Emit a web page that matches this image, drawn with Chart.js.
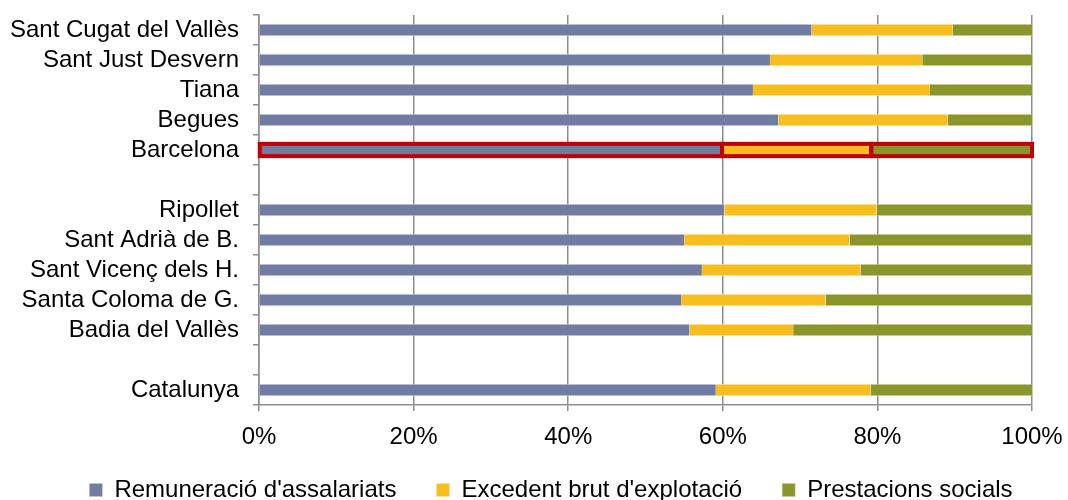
<!DOCTYPE html>
<html>
<head>
<meta charset="utf-8">
<script src="https://cdn.jsdelivr.net/npm/chart.js@4/dist/chart.umd.min.js"></script>
<style>
html,body{margin:0;padding:0;background:#fff;}
#wrap{width:1068px;height:500px;position:relative;}
</style>
</head>
<body>
<div id="wrap"><canvas id="c" width="1068" height="500"></canvas></div>
<script>
const categories = ['Sant Cugat del Vallès','Sant Just Desvern','Tiana','Begues','Barcelona','','Ripollet','Sant Adrià de B.','Sant Vicenç dels H.','Santa Coloma de G.','Badia del Vallès','','Catalunya'];
const remuneracio = [71.5, 66.1, 63.9, 67.2, 59.9, null, 60.2, 55.0, 57.3, 54.6, 55.7, null, 59.1];
const excedent    = [18.2, 19.7, 22.9, 21.9, 19.3, null, 19.7, 21.4, 20.5, 18.7, 13.4, null, 20.0];
const prestacions = [10.3, 14.2, 13.2, 10.9, 20.8, null, 20.1, 23.6, 22.2, 26.7, 30.9, null, 20.9];
const seriesNames = ["Remuneració d'assalariats", "Excedent brut d'explotació", "Prestacions socials"];
const xTicks = [0, 20, 40, 60, 80, 100];
const highlight = 'Barcelona';

const colors = ['#717ca3', '#f6bf1f', '#8a962b'];
const edgeColors = ['#c4c8da', '#fbe3a0', '#c9cf9c'];
const font = {family: '"Liberation Sans", Arial, sans-serif', size: 24};
Chart.defaults.font = font;
Chart.defaults.color = '#000';

function mk(label, data, i){
  return {
    label, data,
    backgroundColor: colors[i],
    borderColor: edgeColors[i],
    borderWidth: {top: 1, bottom: 1, left: 0, right: 0},
    borderSkipped: false,
    barPercentage: 0.41,
    categoryPercentage: 1.0
  };
}

const highlightPlugin = {
  id: 'highlight',
  afterDatasetsDraw(chart){
    const idx = categories.indexOf(highlight);
    const ctx = chart.ctx;
    ctx.save();
    ctx.strokeStyle = '#c00000';
    ctx.lineWidth = 4;
    chart.data.datasets.forEach((ds, i) => {
      const el = chart.getDatasetMeta(i).data[idx];
      if (!el) return;
      const p = el.getProps(['x','y','base','height'], true);
      const x0 = Math.min(p.x, p.base), x1 = Math.max(p.x, p.base);
      ctx.strokeRect(x0, p.y - p.height/2, x1 - x0, p.height);
    });
    ctx.restore();
  }
};

const LEGEND_H = 48;
const legendPlugin = {
  id: 'legendFit',
  beforeLayout(chart){
    const lg = chart.legend;
    if (lg && !lg._fitPatched){
      const orig = lg.fit;
      lg.fit = function(){ orig.call(this); this.height = LEGEND_H; };
      lg._fitPatched = true;
    }
  },
  afterLayout(chart){
    const lg = chart.legend;
    if (!lg) return;
    const dy = -14, dx = 35;
    lg.top += dy;
    lg.left += dx; lg.right += dx;
  }
};

new Chart(document.getElementById('c'), {
  type: 'bar',
  data: {
    labels: categories,
    datasets: [
      mk(seriesNames[0], remuneracio, 0),
      mk(seriesNames[1], excedent, 1),
      mk(seriesNames[2], prestacions, 2)
    ]
  },
  plugins: [highlightPlugin, legendPlugin],
  options: {
    indexAxis: 'y',
    responsive: false,
    animation: false,
    layout: {padding: {top: 15, left: 0, right: 36, bottom: 0}},
    plugins: {
      legend: {
        position: 'bottom',
        labels: {boxWidth: 13, boxHeight: 13, padding: 40, font: font, color: '#000'}
      },
      tooltip: {enabled: false}
    },
    scales: {
      x: {
        stacked: true,
        min: 0, max: 100,
        afterBuildTicks: s => { s.ticks = xTicks.map(v => ({value: v})); },
        ticks: {callback: v => v + '%', font: font, color: '#000', padding: 12, maxRotation: 0},
        grid: {color: '#8c8c8c', lineWidth: 1.5, tickLength: 6, drawTicks: true},
        border: {color: '#8c8c8c', width: 1.5},
        afterFit: s => { s.height = 47; s.paddingLeft = 0; s.paddingRight = 0; }
      },
      y: {
        stacked: true,
        offset: true,
        ticks: {font: font, color: '#000', padding: 14, autoSkip: false},
        grid: {offset: true, drawOnChartArea: false, color: '#8c8c8c', lineWidth: 1.5, tickLength: 6},
        border: {color: '#8c8c8c', width: 1.5},
        afterFit: s => { s.width = 259; s.paddingTop = 0; s.paddingBottom = 0; }
      }
    }
  }
});
</script>
</body>
</html>
